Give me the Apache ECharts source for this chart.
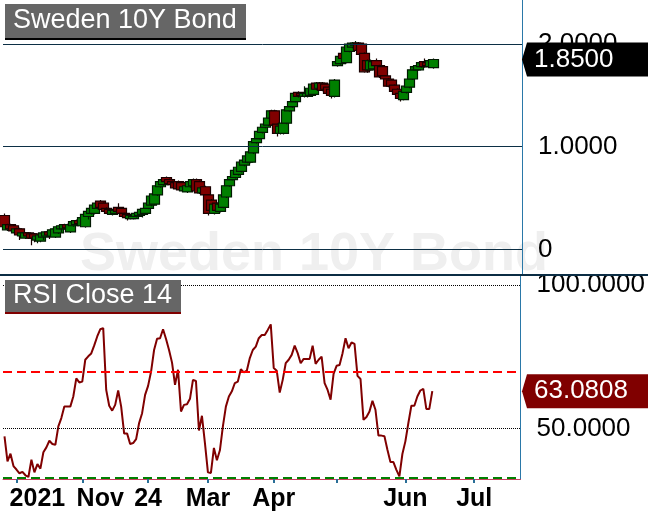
<!DOCTYPE html>
<html><head><meta charset="utf-8">
<script src="https://cdn.jsdelivr.net/npm/echarts@6.0.0/dist/echarts.min.js"></script>
<style>html,body{margin:0;padding:0;background:#fff;}#c{width:648px;height:522px;}</style>
</head><body><div id="c"></div>
<script>
const opens = [0.33,0.19,0.24,0.23,0.16,0.20,0.13,0.11,0.16,0.15,
 0.15,0.09,0.08,0.12,0.13,0.17,0.13,0.12,0.16,0.20,
 0.20,0.24,0.17,0.23,0.24,0.28,0.23,0.22,0.32,0.35,
 0.35,0.40,0.47,0.45,0.40,0.39,0.34,0.35,0.41,0.40,
 0.35,0.34,0.30,0.30,0.32,0.33,0.34,0.35,0.40,0.43,
 0.44,0.53,0.61,0.63,0.70,0.68,0.66,0.65,0.66,0.65,
 0.57,0.56,0.61,0.62,0.68,0.66,0.55,0.61,0.53,0.48,
 0.35,0.45,0.37,0.41,0.51,0.62,0.68,0.70,0.73,0.76,
 0.82,0.85,0.85,0.94,1.04,1.08,1.14,1.19,1.21,1.28,
 1.35,1.22,1.13,1.13,1.23,1.35,1.39,1.44,1.53,1.52,
 1.49,1.49,1.50,1.51,1.62,1.57,1.62,1.61,1.58,1.56,
 1.49,1.79,1.81,1.91,1.82,1.93,1.97,1.99,2.01,2.00,
 1.91,1.84,1.75,1.76,1.84,1.79,1.78,1.69,1.66,1.65,
 1.60,1.56,1.52,1.46,1.53,1.58,1.66,1.75,1.75,1.78,
 1.83,1.82,1.78,1.77];
const closes = [0.22,0.24,0.20,0.18,0.20,0.14,0.16,0.16,0.13,0.11,
 0.11,0.13,0.14,0.16,0.17,0.14,0.19,0.20,0.22,0.23,
 0.24,0.21,0.24,0.27,0.28,0.25,0.31,0.34,0.37,0.40,
 0.43,0.45,0.41,0.39,0.37,0.35,0.38,0.38,0.37,0.35,
 0.32,0.31,0.33,0.32,0.35,0.36,0.39,0.40,0.45,0.52,
 0.54,0.62,0.66,0.68,0.66,0.64,0.63,0.60,0.59,0.58,
 0.61,0.62,0.66,0.68,0.57,0.55,0.60,0.53,0.35,0.38,
 0.44,0.38,0.44,0.53,0.62,0.68,0.71,0.77,0.80,0.85,
 0.87,0.91,0.95,1.05,1.08,1.15,1.19,1.22,1.28,1.35,
 1.21,1.13,1.20,1.23,1.36,1.39,1.44,1.52,1.49,1.50,
 1.52,1.52,1.57,1.61,1.56,1.62,1.55,1.56,1.52,1.50,
 1.65,1.83,1.88,1.86,1.97,2.00,2.01,2.01,1.94,1.90,
 1.73,1.75,1.84,1.83,1.79,1.68,1.69,1.66,1.59,1.59,
 1.54,1.51,1.47,1.54,1.59,1.66,1.75,1.78,1.79,1.82,
 1.78,1.79,1.84,1.85];
const highs = [0.35,0.25,0.25,0.24,0.21,0.21,0.17,0.17,0.17,0.16,
 0.16,0.14,0.15,0.17,0.18,0.18,0.20,0.21,0.23,0.24,
 0.25,0.25,0.25,0.28,0.29,0.29,0.32,0.35,0.38,0.41,
 0.44,0.46,0.48,0.46,0.41,0.40,0.39,0.39,0.45,0.41,
 0.36,0.35,0.34,0.33,0.36,0.37,0.40,0.41,0.46,0.53,
 0.55,0.63,0.67,0.69,0.71,0.69,0.67,0.66,0.67,0.66,
 0.62,0.63,0.67,0.69,0.69,0.67,0.61,0.62,0.54,0.49,
 0.45,0.46,0.45,0.54,0.63,0.69,0.72,0.78,0.81,0.86,
 0.88,0.92,0.96,1.06,1.09,1.16,1.20,1.23,1.29,1.36,
 1.36,1.23,1.21,1.24,1.37,1.40,1.45,1.53,1.54,1.53,
 1.59,1.53,1.58,1.62,1.63,1.63,1.63,1.62,1.59,1.57,
 1.66,1.84,1.89,1.92,1.98,2.01,2.02,2.03,2.02,2.01,
 1.92,1.85,1.85,1.84,1.86,1.80,1.79,1.70,1.67,1.66,
 1.61,1.57,1.53,1.55,1.60,1.67,1.76,1.79,1.80,1.83,
 1.86,1.83,1.85,1.86];
const lows = [0.20,0.18,0.19,0.16,0.15,0.09,0.12,0.10,0.10,0.04,
 0.07,0.06,0.07,0.09,0.12,0.10,0.12,0.11,0.15,0.17,
 0.19,0.18,0.16,0.22,0.23,0.24,0.22,0.21,0.29,0.34,
 0.34,0.39,0.40,0.38,0.35,0.34,0.33,0.34,0.36,0.34,
 0.31,0.28,0.29,0.29,0.31,0.32,0.31,0.34,0.39,0.42,
 0.43,0.52,0.60,0.62,0.65,0.63,0.60,0.59,0.58,0.57,
 0.56,0.55,0.60,0.61,0.56,0.54,0.54,0.52,0.33,0.37,
 0.34,0.37,0.36,0.40,0.50,0.61,0.67,0.69,0.72,0.75,
 0.81,0.84,0.84,0.93,1.03,1.07,1.13,1.18,1.20,1.27,
 1.20,1.10,1.12,1.12,1.22,1.34,1.38,1.43,1.48,1.49,
 1.48,1.48,1.49,1.50,1.55,1.56,1.54,1.55,1.51,1.47,
 1.48,1.78,1.80,1.85,1.81,1.92,1.96,1.98,1.93,1.89,
 1.72,1.72,1.74,1.75,1.78,1.67,1.68,1.65,1.58,1.58,
 1.53,1.50,1.44,1.45,1.52,1.57,1.65,1.74,1.74,1.77,
 1.77,1.78,1.77,1.76];
const rsi = [47.3,38.6,41.3,37.0,35.8,34.5,35.0,33.8,33.2,39.2,
 34.8,37.7,36.1,41.8,43.5,45.8,44.7,44.4,50.8,53.7,
 57.7,57.7,57.7,61.2,67.5,66.1,66.4,74.0,75.2,76.2,
 79.0,82.1,84.6,85.0,63.5,58.0,56.3,58.3,63.3,57.7,
 48.3,48.3,44.7,45.0,46.4,52.0,55.4,61.8,64.9,69.9,
 77.4,81.3,81.5,84.6,81.2,77.4,73.0,65.3,70.5,56.0,
 58.3,58.5,60.4,67.0,66.6,49.4,54.5,45.0,34.8,34.6,
 43.3,39.0,42.5,50.8,57.7,61.2,63.0,65.9,66.4,70.7,
 69.6,70.2,74.6,77.4,78.6,81.5,82.6,82.6,84.4,86.3,
 71.1,70.2,62.6,67.0,72.8,74.0,75.7,78.9,76.3,72.8,
 74.3,74.3,74.3,78.9,72.6,74.0,75.1,65.9,63.5,60.1,
 69.1,71.9,72.2,76.3,81.5,78.0,80.0,79.5,68.4,67.3,
 53.1,54.1,56.0,59.7,56.6,47.6,47.6,47.4,42.7,38.4,
 38.4,35.7,33.4,41.2,45.6,52.0,58.0,58.0,61.2,63.3,
 63.9,56.9,56.9,63.0808];
const slotCount = 173;
const tickSlots = [4,26,48,68,90,111,134,157];
const labelSlots = [11,32,48,68,90,134,157];
const tickLabels = ['2021','Nov','24','Mar','Apr','Jun','Jul'];
const priceLevels = [0,1,2];
const rsiLevels = [50,100];
const rsiOverbought = 70;
const rsiFloor = 32.9;
const chartTitle = 'Sweden 10Y Bond';
const rsiTitle = 'RSI Close 14';

const categories = Array.from({length: slotCount}, (_, i) => 'D' + i);
const labelMap = {};
labelSlots.forEach((s, k) => { labelMap[s] = tickLabels[k]; });
const tickSet = new Set(tickSlots);
const candleData = opens.map((o, i) => [o, closes[i], lows[i], highs[i]]);
const FONT = '"Liberation Sans", Arial, sans-serif';

const chart = echarts.init(document.getElementById('c'), null, {renderer: 'canvas'});
const gridRight = 648 - 522;
const xBase = {type: 'category', data: categories, boundaryGap: true};
const option = {
  animation: false,
  backgroundColor: '#ffffff',
  grid: [
    {left: 3, right: gridRight, top: 0, height: 275},
    {left: 3, right: gridRight, top: 275, height: 204}
  ],
  xAxis: [
    Object.assign({}, xBase, {gridIndex: 0, axisLine: {show: false}, axisTick: {show: false}, axisLabel: {show: false}, splitLine: {show: false}}),
    Object.assign({}, xBase, {gridIndex: 1,
      axisLine: {show: true, lineStyle: {color: '#c8405e', width: 1}},
      axisTick: {show: true, alignWithLabel: true, length: 4, lineStyle: {color: '#2a6f97', width: 2},
        interval: (idx) => tickSet.has(idx)},
      axisLabel: {show: true, interval: (idx) => labelMap.hasOwnProperty(idx), margin: 8, hideOverlap: false,
        color: '#000', fontSize: 25, fontWeight: 'bold', fontFamily: FONT, lineHeight: 25,
        formatter: (v, idx) => labelMap[idx] || ''},
      splitLine: {show: false}})
  ],
  yAxis: [
    {gridIndex: 0, type: 'value', position: 'right', min: -0.25, max: 2.43, interval: 0.25,
      axisLine: {show: true, onZero: false, lineStyle: {color: '#2a78a8', width: 1}},
      axisTick: {show: false}, splitLine: {show: false},
      axisLabel: {margin: 16, color: '#000', fontSize: 26, fontFamily: FONT,
        formatter: (v) => {
          for (const p of priceLevels) if (Math.abs(v - p) < 1e-9) return p === 0 ? '0' : p.toFixed(4);
          return '';
        }}},
    {gridIndex: 1, type: 'value', position: 'right', min: 32.5, max: 103.5, interval: 2.5,
      axisLine: {show: true, onZero: false, lineStyle: {color: '#2a78a8', width: 1}},
      axisTick: {show: false}, splitLine: {show: false},
      axisLabel: {margin: 16, color: '#000', fontSize: 26, fontFamily: FONT,
        formatter: (v) => {
          for (const p of rsiLevels) if (Math.abs(v - p) < 1e-9) return p.toFixed(4);
          return '';
        }}}
  ],
  series: [
    {type: 'candlestick', xAxisIndex: 0, yAxisIndex: 0, data: candleData, barWidth: 10, z: 3,
      itemStyle: {color: '#008000', color0: '#800000', borderColor: '#021a02', borderColor0: '#1a0000', borderWidth: 1.2},
      markLine: {silent: true, symbol: ['none', 'none'], label: {show: false}, animation: false,
        lineStyle: {color: '#0c2f45', width: 1, type: 'solid'},
        data: priceLevels.map(v => ({yAxis: v}))}},
    {type: 'line', xAxisIndex: 1, yAxisIndex: 1, data: rsi, showSymbol: false, z: 4,
      lineStyle: {color: '#800000', width: 2},
      markLine: {silent: true, symbol: ['none', 'none'], label: {show: false}, animation: false,
        data: [
          {yAxis: rsiLevels[1], lineStyle: {color: '#000', width: 1, type: 'dotted'}},
          {yAxis: rsiLevels[0], lineStyle: {color: '#000', width: 1, type: 'dotted'}},
          {yAxis: rsiOverbought, lineStyle: {color: '#ff0000', width: 2, type: [9, 5]}},
          {yAxis: rsiFloor, lineStyle: {color: '#008000', width: 2, type: [9, 5]}}
        ]}}
  ],
  graphic: [
    {id: 'wm', type: 'text', z: 0, x: 314, y: 255,
      style: {text: chartTitle, fill: '#efefef', font: 'bold 54px ' + FONT, align: 'center', verticalAlign: 'middle'}},
    {id: 'sep', type: 'rect', z: 50, shape: {x: 0, y: 274, width: 648, height: 2}, style: {fill: '#0b2d44'}},
    {id: 't1bg', type: 'rect', z: 100, shape: {x: 5, y: 4, width: 241, height: 34}, style: {fill: '#666666'}},
    {id: 't1ul', type: 'rect', z: 100, shape: {x: 5, y: 38, width: 241, height: 2}, style: {fill: '#000000'}},
    {id: 't1', type: 'text', z: 101, x: 13, y: 21,
      style: {text: chartTitle, fill: '#ffffff', font: '27px ' + FONT, align: 'left', verticalAlign: 'middle'}},
    {id: 't2bg', type: 'rect', z: 100, shape: {x: 5, y: 280, width: 176, height: 32}, style: {fill: '#666666'}},
    {id: 't2ul', type: 'rect', z: 100, shape: {x: 5, y: 312, width: 176, height: 2}, style: {fill: '#800000'}},
    {id: 't2', type: 'text', z: 101, x: 13, y: 296,
      style: {text: rsiTitle, fill: '#ffffff', font: '27px ' + FONT, align: 'left', verticalAlign: 'middle'}}
  ]
};
chart.setOption(option);

const lastClose = closes[closes.length - 1];
const lastRsi = rsi[rsi.length - 1];
const yP = chart.convertToPixel({yAxisIndex: 0}, lastClose);
const yR = chart.convertToPixel({yAxisIndex: 1}, lastRsi);
function tag(id, y, fill, text) {
  return [
    {id: id + 'bg', type: 'polygon', z: 110,
      shape: {points: [[522, y], [527, y - 17], [648, y - 17], [648, y + 17], [527, y + 17]]},
      style: {fill: fill}},
    {id: id + 'tx', type: 'text', z: 111, x: 534, y: y,
      style: {text: text, fill: '#ffffff', font: '26px ' + FONT, align: 'left', verticalAlign: 'middle'}}
  ];
}
chart.setOption({graphic: [].concat(tag('tp', yP, '#000000', lastClose.toFixed(4)), tag('tr', yR, '#800000', lastRsi.toFixed(4)))});
</script></body></html>
